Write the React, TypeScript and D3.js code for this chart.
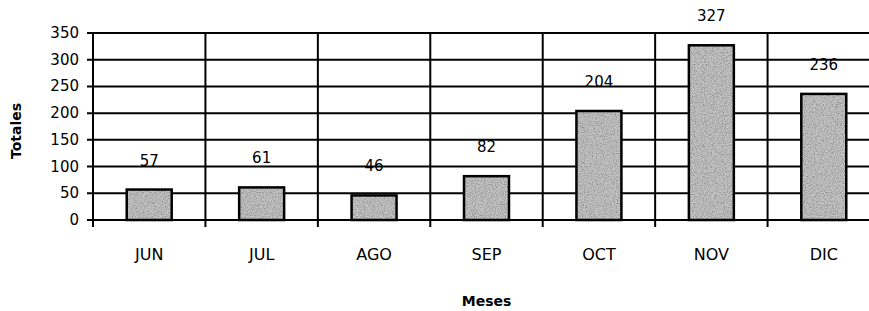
import React, { useEffect, useRef } from 'react';
import { scaleBand, scaleLinear, select } from 'd3';

const months = ['JUN', 'JUL', 'AGO', 'SEP', 'OCT', 'NOV', 'DIC'];
const totals = [57, 61, 46, 82, 204, 327, 236];
const yTicks = [0, 50, 100, 150, 200, 250, 300, 350];

const W = 869;
const H = 311;
const FONT = '"DejaVu Sans", sans-serif';

export default function App() {
  const ref = useRef<SVGSVGElement>(null);

  useEffect(() => {
    const svg = select(ref.current);
    svg.selectAll('*').remove();

    const left = 93;
    const right = 880;
    const top = 33;
    const bottom = 220;

    const x = scaleBand<string>().domain(months).range([left, right]).paddingInner(0.6).paddingOuter(0.3);
    const band = scaleBand<string>().domain(months).range([left, right]);
    const y = scaleLinear().domain([0, 350]).range([bottom, top]);

    // speckled grey fill for the bars
    const defs = svg.append('defs');
    const f = defs.append('filter').attr('id', 'grain').attr('x', 0).attr('y', 0).attr('width', 1).attr('height', 1);
    f.append('feTurbulence').attr('type', 'fractalNoise').attr('baseFrequency', 0.9).attr('numOctaves', 2).attr('seed', 3).attr('result', 'n');
    f.append('feColorMatrix').attr('in', 'n').attr('type', 'matrix')
      .attr('values', '0 0 0 0 0.25  0 0 0 0 0.25  0 0 0 0 0.25  0 0 0 -2.4 1.45')
      .attr('result', 'dots');
    f.append('feComposite').attr('in', 'dots').attr('in2', 'SourceGraphic').attr('operator', 'in').attr('result', 'dm');
    f.append('feMerge').call(m => {
      m.append('feMergeNode').attr('in', 'SourceGraphic');
      m.append('feMergeNode').attr('in', 'dm');
    });

    // horizontal grid
    svg.append('g')
      .selectAll('line')
      .data(yTicks)
      .enter()
      .append('line')
      .attr('x1', left - 6)
      .attr('x2', right)
      .attr('y1', d => y(d))
      .attr('y2', d => y(d))
      .attr('stroke', '#000')
      .attr('stroke-width', 2);

    // vertical dividers
    const dividers = months.map(m => band(m) as number).concat([right]);
    svg.append('g')
      .selectAll('line')
      .data(dividers)
      .enter()
      .append('line')
      .attr('x1', d => d)
      .attr('x2', d => d)
      .attr('y1', top)
      .attr('y2', bottom + 7)
      .attr('stroke', '#000')
      .attr('stroke-width', 2);

    // bars
    svg.append('g')
      .selectAll('rect')
      .data(totals)
      .enter()
      .append('rect')
      .attr('x', (d, i) => x(months[i]) as number)
      .attr('y', d => y(d))
      .attr('width', x.bandwidth())
      .attr('height', d => bottom - y(d))
      .attr('fill', '#c4c4c4')
      .attr('filter', 'url(#grain)');

    svg.append('g')
      .selectAll('rect')
      .data(totals)
      .enter()
      .append('rect')
      .attr('x', (d, i) => x(months[i]) as number)
      .attr('y', d => y(d))
      .attr('width', x.bandwidth())
      .attr('height', d => bottom - y(d))
      .attr('fill', 'none')
      .attr('stroke', '#000')
      .attr('stroke-width', 2.5);

    // value labels
    svg.append('g')
      .selectAll('text')
      .data(totals)
      .enter()
      .append('text')
      .attr('x', (d, i) => (band(months[i]) as number) + band.bandwidth() / 2)
      .attr('y', d => y(d) - 24)
      .attr('text-anchor', 'middle')
      .attr('font-family', FONT)
      .attr('font-size', 15)
      .text(d => d);

    // y tick labels
    svg.append('g')
      .selectAll('text')
      .data(yTicks)
      .enter()
      .append('text')
      .attr('x', 79)
      .attr('y', d => y(d) + 5)
      .attr('text-anchor', 'end')
      .attr('font-family', FONT)
      .attr('font-size', 15)
      .text(d => d);

    // month labels
    svg.append('g')
      .selectAll('text')
      .data(months)
      .enter()
      .append('text')
      .attr('x', d => (band(d) as number) + band.bandwidth() / 2)
      .attr('y', 260)
      .attr('text-anchor', 'middle')
      .attr('font-family', FONT)
      .attr('font-size', 16)
      .text(d => d);

    svg.append('text')
      .attr('x', (left + right) / 2)
      .attr('y', 306)
      .attr('text-anchor', 'middle')
      .attr('font-family', FONT)
      .attr('font-size', 14)
      .attr('font-weight', 'bold')
      .text('Meses');

    svg.append('text')
      .attr('transform', 'translate(21,131) rotate(-90)')
      .attr('text-anchor', 'middle')
      .attr('font-family', FONT)
      .attr('font-size', 14)
      .attr('font-weight', 'bold')
      .text('Totales');
  }, []);

  return (
    <svg
      ref={ref}
      width={W}
      height={H}
      style={{ position: 'absolute', left: 0, top: 0, background: '#fff' }}
    />
  );
}
